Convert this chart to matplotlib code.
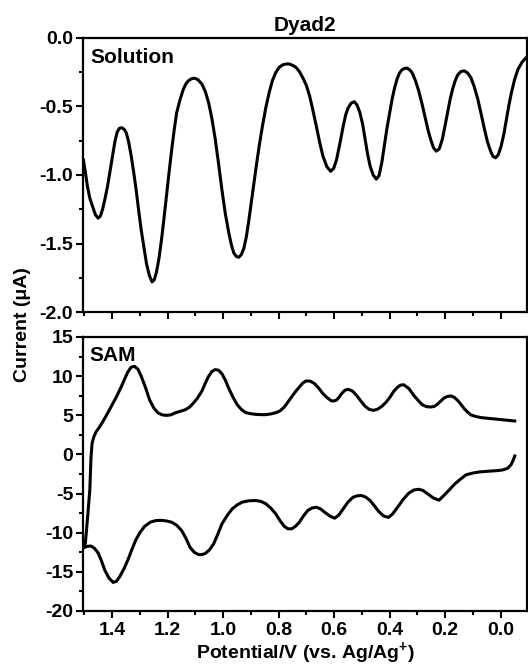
import matplotlib
matplotlib.use('Agg')

import matplotlib.pyplot as plt
from matplotlib.ticker import MultipleLocator

plt.rcParams['font.family'] = ['Liberation Sans', 'DejaVu Sans']
plt.rcParams['font.weight'] = 'bold'
plt.rcParams['axes.unicode_minus'] = False
plt.rcParams['mathtext.fontset'] = 'custom'
plt.rcParams['mathtext.rm'] = 'Liberation Sans:bold'
plt.rcParams['mathtext.bf'] = 'Liberation Sans:bold'
plt.rcParams['mathtext.it'] = 'Liberation Sans:bold'

# solution trace (potential in V, current in uA)
sol_v = [1.503, 1.496, 1.489, 1.480, 1.470, 1.460, 1.450, 1.442, 1.434, 1.425,
         1.416, 1.407, 1.398, 1.390, 1.382, 1.374, 1.365, 1.357, 1.349, 1.340,
         1.331, 1.322, 1.313, 1.304, 1.295, 1.285, 1.276, 1.266, 1.256, 1.248,
         1.240, 1.231, 1.222, 1.213, 1.204, 1.195, 1.185, 1.176, 1.167, 1.155,
         1.143, 1.134, 1.125, 1.114, 1.103, 1.090, 1.076, 1.064, 1.052, 1.040,
         1.028, 1.016, 1.004, 0.992, 0.979, 0.970, 0.961, 0.952, 0.943, 0.934,
         0.925, 0.916, 0.907, 0.895, 0.882, 0.870, 0.858, 0.846, 0.834, 0.822,
         0.810, 0.798, 0.785, 0.773, 0.761, 0.749, 0.737, 0.725, 0.713, 0.700,
         0.688, 0.676, 0.664, 0.652, 0.640, 0.626, 0.612, 0.601, 0.591, 0.579,
         0.567, 0.558, 0.549, 0.538, 0.527, 0.517, 0.507, 0.497, 0.488, 0.479,
         0.470, 0.459, 0.448, 0.438, 0.428, 0.419, 0.410, 0.400, 0.391, 0.382,
         0.373, 0.364, 0.355, 0.346, 0.337, 0.328, 0.319, 0.307, 0.295, 0.282,
         0.270, 0.261, 0.252, 0.242, 0.232, 0.221, 0.210, 0.200, 0.191, 0.182,
         0.173, 0.164, 0.155, 0.143, 0.131, 0.119, 0.107, 0.095, 0.082, 0.070,
         0.058, 0.047, 0.036, 0.027, 0.018, 0.008, -0.002, -0.012, -0.021, -0.030,
         -0.039, -0.051, -0.063, -0.078, -0.093]
sol_i = [-0.89, -0.98, -1.08, -1.17, -1.23, -1.29, -1.315, -1.30, -1.25, -1.17,
         -1.08, -0.97, -0.86, -0.76, -0.69, -0.66, -0.655, -0.665, -0.69, -0.76,
         -0.86, -0.98, -1.11, -1.26, -1.40, -1.53, -1.645, -1.73, -1.78, -1.765,
         -1.71, -1.61, -1.475, -1.32, -1.155, -0.99, -0.815, -0.67, -0.545, -0.45,
         -0.374, -0.335, -0.313, -0.298, -0.293, -0.305, -0.337, -0.39, -0.472, -0.59,
         -0.74, -0.92, -1.11, -1.28, -1.425, -1.51, -1.57, -1.595, -1.60, -1.58,
         -1.535, -1.45, -1.33, -1.15, -0.96, -0.79, -0.643, -0.51, -0.40, -0.31,
         -0.252, -0.215, -0.196, -0.19, -0.19, -0.20, -0.215, -0.245, -0.289, -0.345,
         -0.423, -0.53, -0.643, -0.76, -0.863, -0.94, -0.973, -0.95, -0.888, -0.77,
         -0.643, -0.56, -0.509, -0.475, -0.465, -0.49, -0.545, -0.63, -0.74, -0.85,
         -0.936, -1.00, -1.03, -1.005, -0.91, -0.79, -0.667, -0.55, -0.447, -0.365,
         -0.30, -0.255, -0.232, -0.222, -0.22, -0.232, -0.252, -0.31, -0.386, -0.49,
         -0.594, -0.675, -0.74, -0.80, -0.826, -0.81, -0.74, -0.64, -0.545, -0.45,
         -0.374, -0.315, -0.271, -0.245, -0.24, -0.255, -0.289, -0.355, -0.447, -0.555,
         -0.667, -0.76, -0.826, -0.865, -0.875, -0.85, -0.79, -0.70, -0.594, -0.49,
         -0.40, -0.30, -0.227, -0.175, -0.142]

# SAM voltammogram: anodic branch (right to left), then cathodic branch (left to right)
sam_v = [-0.051, -0.002, 0.046, 0.070, 0.090, 0.107, 0.120, 0.131, 0.143, 0.155,
         0.167, 0.179, 0.192, 0.204, 0.216, 0.228, 0.240, 0.252, 0.267, 0.282,
         0.297, 0.313, 0.330, 0.349, 0.361, 0.373, 0.386, 0.398, 0.413, 0.428,
         0.443, 0.458, 0.473, 0.488, 0.503, 0.519, 0.534, 0.549, 0.561, 0.573,
         0.582, 0.591, 0.600, 0.610, 0.625, 0.640, 0.655, 0.670, 0.685, 0.701,
         0.713, 0.725, 0.737, 0.749, 0.764, 0.779, 0.795, 0.810, 0.828, 0.846,
         0.864, 0.882, 0.900, 0.919, 0.934, 0.949, 0.964, 0.979, 0.992, 1.004,
         1.016, 1.028, 1.040, 1.052, 1.064, 1.076, 1.092, 1.107, 1.122, 1.137,
         1.155, 1.173, 1.188, 1.204, 1.219, 1.234, 1.249, 1.264, 1.280, 1.295,
         1.307, 1.319, 1.331, 1.343, 1.355, 1.367, 1.385, 1.404, 1.420, 1.434,
         1.446, 1.458, 1.466, 1.472, 1.476, 1.480, 1.488, 1.496, 1.500,
         1.490, 1.476, 1.463, 1.450, 1.438, 1.426, 1.411, 1.396, 1.384, 1.372,
         1.357, 1.342, 1.328, 1.314, 1.298, 1.283, 1.262, 1.242, 1.222, 1.204,
         1.185, 1.167, 1.149, 1.134, 1.119, 1.104, 1.088, 1.076, 1.064, 1.049,
         1.034, 1.019, 1.004, 0.985, 0.967, 0.949, 0.931, 0.907, 0.882, 0.864,
         0.846, 0.828, 0.810, 0.794, 0.779, 0.766, 0.752, 0.738, 0.725, 0.710,
         0.695, 0.680, 0.664, 0.649, 0.634, 0.616, 0.598, 0.583, 0.567, 0.549,
         0.531, 0.516, 0.501, 0.486, 0.470, 0.455, 0.440, 0.422, 0.404, 0.389,
         0.373, 0.352, 0.331, 0.313, 0.295, 0.280, 0.264, 0.243, 0.222, 0.203,
         0.184, 0.166, 0.148, 0.124, 0.100, 0.076, 0.046, 0.016, -0.005, -0.026,
         -0.038, -0.046, -0.051]
sam_i = [4.27, 4.44, 4.61, 4.70, 4.85, 5.05, 5.45, 5.84, 6.40, 6.91,
         7.30, 7.47, 7.40, 7.20, 6.80, 6.40, 6.12, 6.06, 6.10, 6.35,
         6.90, 7.55, 8.40, 8.90, 8.85, 8.53, 8.00, 7.34, 6.65, 6.14,
         5.78, 5.63, 5.75, 6.14, 6.80, 7.55, 8.10, 8.32, 8.20, 7.76,
         7.30, 6.95, 6.83, 6.85, 7.25, 7.76, 8.45, 9.04, 9.35, 9.39,
         9.10, 8.62, 8.10, 7.55, 6.80, 6.06, 5.55, 5.33, 5.17, 5.08,
         5.08, 5.12, 5.20, 5.35, 5.75, 6.35, 7.30, 8.40, 9.50, 10.30,
         10.75, 10.84, 10.60, 9.98, 9.10, 8.11, 7.20, 6.55, 6.00, 5.70,
         5.50, 5.30, 5.05, 4.99, 5.05, 5.30, 5.90, 6.91, 8.60, 10.00,
         10.90, 11.25, 11.15, 10.54, 9.60, 8.62, 7.30, 6.06, 5.00, 4.14,
         3.45, 2.86, 2.20, 1.40, -0.50, -4.50, -8.00, -11.30, -11.90,
         -11.75, -11.70, -12.0, -12.6, -13.6, -14.8, -15.8, -16.35, -16.2, -15.6,
         -14.6, -13.4, -12.1, -10.9, -9.9, -9.2, -8.65, -8.45, -8.42, -8.5,
         -8.66, -9.05, -9.73, -10.7, -11.86, -12.5, -12.8, -12.8, -12.65, -12.2,
         -11.43, -10.2, -8.87, -7.8, -6.95, -6.45, -6.1, -5.92, -5.89, -6.0,
         -6.3, -6.85, -7.6, -8.5, -9.2, -9.5, -9.5, -9.15, -8.66, -7.85,
         -7.17, -6.85, -6.74, -6.95, -7.38, -7.85, -8.15, -7.75, -6.95, -6.05,
         -5.46, -5.28, -5.25, -5.45, -5.89, -6.55, -7.25, -7.85, -8.05, -7.6,
         -6.84, -5.8, -4.95, -4.55, -4.45, -4.6, -5.0, -5.55, -5.85, -5.2,
         -4.5, -3.8, -3.26, -2.6, -2.38, -2.24, -2.15, -2.08, -2.0, -1.77,
         -1.3, -0.7, -0.2]

fig = plt.figure(figsize=(5.28, 6.66), dpi=100)
ax1 = fig.add_axes([0.157, 0.5315, 0.841, 0.4115])
ax2 = fig.add_axes([0.157, 0.0826, 0.841, 0.4114])

ax1.plot(sol_v, sol_i, color='black', lw=2.2, solid_joinstyle='round')
ax2.plot(sam_v, sam_i, color='black', lw=2.2, solid_joinstyle='round')

for ax in (ax1, ax2):
    ax.set_xlim(1.505, -0.095)
    ax.xaxis.set_major_locator(MultipleLocator(0.2))
    ax.xaxis.set_minor_locator(MultipleLocator(0.1))
    for s in ax.spines.values():
        s.set_linewidth(1.6)
    ax.tick_params(which='both', direction='out', width=1.5, top=False, right=False,
                   labelsize=14, pad=2)
    ax.tick_params(which='major', length=5)
    ax.tick_params(which='minor', length=3)

ax1.set_ylim(-2.0, 0.0)
ax1.yaxis.set_minor_locator(MultipleLocator(0.25))
ax1.set_yticks([0.0, -0.5, -1.0, -1.5, -2.0])
ax1.set_yticklabels(['0.0', '-0.5', '-1.0', '-1.5', '-2.0'])
ax1.tick_params(axis='x', labelbottom=False)
ax1.set_title('Dyad2', fontsize=15, fontweight='bold', pad=5)
ax1.text(0.016, 0.962, 'Solution', transform=ax1.transAxes, fontsize=15,
         fontweight='bold', va='top', ha='left')

ax2.set_ylim(-20, 15)
ax2.yaxis.set_major_locator(MultipleLocator(5))
ax2.yaxis.set_minor_locator(MultipleLocator(2.5))
ax2.set_xticks([1.4, 1.2, 1.0, 0.8, 0.6, 0.4, 0.2, 0.0])
ax2.set_xticklabels(['1.4', '1.2', '1.0', '0.8', '0.6', '0.4', '0.2', '0.0'])
ax2.tick_params(axis='x', pad=3)
ax2.text(0.014, 0.968, 'SAM', transform=ax2.transAxes, fontsize=15,
         fontweight='bold', va='top', ha='left')
ax2.set_xlabel('Potential/V (vs. Ag/Ag$^{+}$)', fontsize=14, fontweight='bold',
               labelpad=1)

fig.text(0.042, 0.512, 'Current (μA)', rotation=90, fontsize=14,
         fontweight='bold', ha='center', va='center')

plt.savefig('out.png', dpi=100)
plt.close()
